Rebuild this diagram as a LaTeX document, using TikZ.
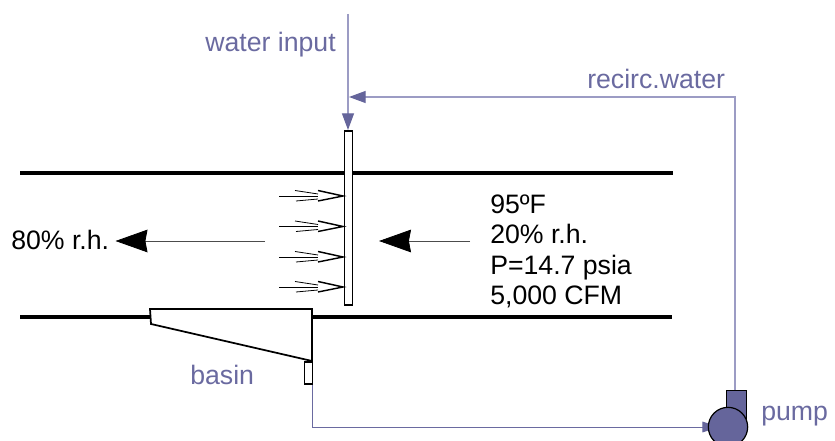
\documentclass[tikz,border=0pt]{standalone}
\usepackage{fontspec}
\setmainfont{Liberation Sans}
\usetikzlibrary{arrows.meta,backgrounds}
\definecolor{lab}{HTML}{6A6AA0}
\definecolor{pipe}{HTML}{9C9CC4}
\definecolor{pumpfill}{HTML}{65659B}
\tikzset{
  x=0.75pt,y=-0.75pt,
  lbl/.style={anchor=base west,inner sep=0pt,font=\fontsize{20pt}{23pt}\selectfont},
  blue lbl/.style={lbl,text=lab},
  duct/.style={line width=3.2pt,black},
  outline/.style={draw=black,line width=1.3pt},
  pipeline/.style={draw=pipe,line width=0.9pt},
  pipehead/.style={-{Triangle[length=12.5pt,width=9pt,color=pumpfill]}},
  flow/.style={draw=black!70,line width=0.6pt},
  bigflow/.style={-{Stealth[length=24pt,width=17pt,inset=1.6pt,color=black]}},
  jetthin/.style={line width=0.6pt,black},
  jetthick/.style={line width=1.1pt,black},
}
\begin{document}
\begin{tikzpicture}
\useasboundingbox (0,0) rectangle (835,441);
% duct
\coordinate (d1a) at (20,173); \coordinate (d1b) at (673,173);
\coordinate (d2a) at (20,317); \coordinate (d2b) at (672,317);
\draw[duct] (d1a) -- (d1b);
\draw[duct] (d2a) -- (d2b);
% spray bar
\node[outline,fill=white,minimum width=6pt,minimum height=130.5pt,inner sep=0pt,anchor=north west] (bar) at (343.5,130.5) {};
% basin
\draw[outline,fill=white,line join=miter] (150,309) coordinate (b1) -- (312,309) coordinate (b2) -- (312,361) coordinate (b3) -- (151,324) coordinate (b4) -- cycle;
\node[outline,fill=white,minimum width=6pt,minimum height=16.5pt,inner sep=0pt,anchor=north west] (drain) at (303.5,361) {};
% pump
\node[draw=black,line width=0.9pt,fill=pumpfill,minimum width=15pt,minimum height=26pt,inner sep=0pt,anchor=north west] (pumpbody) at (726,390) {};
\node[draw=black,line width=0.9pt,fill=pumpfill,circle,minimum size=29.5pt,inner sep=0pt] (pump) at (728,427) {};
% pipes
\coordinate (wtop) at (348,14);
\coordinate (wend) at (348,130);
\coordinate (rstart) at (735,390);
\coordinate (rcorner) at (735,97);
\coordinate (rend) at (349,97);
\coordinate (dstart) at (312,383);
\coordinate (pc) at (312,427);
\coordinate (pin) at (719,427);
\begin{scope}[on background layer]
\draw[pipeline,pipehead] (wtop) -- (wend);
\draw[pipeline,pipehead] (rstart) -- (rcorner) -- (rend);
\draw[draw=lab,line width=0.75pt,-{Triangle[length=12.5pt,width=8pt,color=pumpfill]}] (dstart) -- (pc) -- (pin);
\end{scope}
% jets
\foreach \n/\y in {1/196,2/226.5,3/257,4/287}{
  \coordinate (j\n tip) at (343,\y);
  \coordinate (j\n u) at (318,\y-5.5);
  \coordinate (j\n l) at (318,\y+5);
  \coordinate (j\n s) at (279,\y);
  \coordinate (j\n e) at (318,\y);
  \coordinate (j\n a) at (295,\y-5.5);
  \coordinate (j\n b) at (318,\y-2);
  \coordinate (j\n c) at (296,\y+5);
  \coordinate (j\n d) at (318,\y+3);
  \draw[jetthin] (j\n s) -- (j\n e);
  \draw[jetthin] (j\n a) -- (j\n b);
  \draw[jetthin] (j\n c) -- (j\n d);
  \draw[jetthick] (j\n u) -- (j\n tip) -- (j\n l);
}
% air flow
\coordinate (aL1) at (265,241); \coordinate (aL2) at (115.5,241);
\coordinate (aR1) at (470,241); \coordinate (aR2) at (379,241);
\draw[flow,bigflow] (aL1) -- (aL2);
\draw[flow,bigflow] (aR1) -- (aR2);
% labels
\node[blue lbl] (lw) at (205,52) {water input};
\node[blue lbl] (lr) at (587,89) {recirc.water};
\node[blue lbl] (lb) at (190,385) {basin};
\node[blue lbl] (lp) at (761,420) {pump};
\node[lbl] (l80) at (11,250) {80\% r.h.};
\node[lbl] (t1) at (490,214) {95ºF};
\node[lbl] (t2) at (490,244) {20\% r.h.};
\node[lbl] (t3) at (490,275) {P=14.7 psia};
\node[lbl] (t4) at (490,305) {5,000 CFM};
\end{tikzpicture}
\end{document}
